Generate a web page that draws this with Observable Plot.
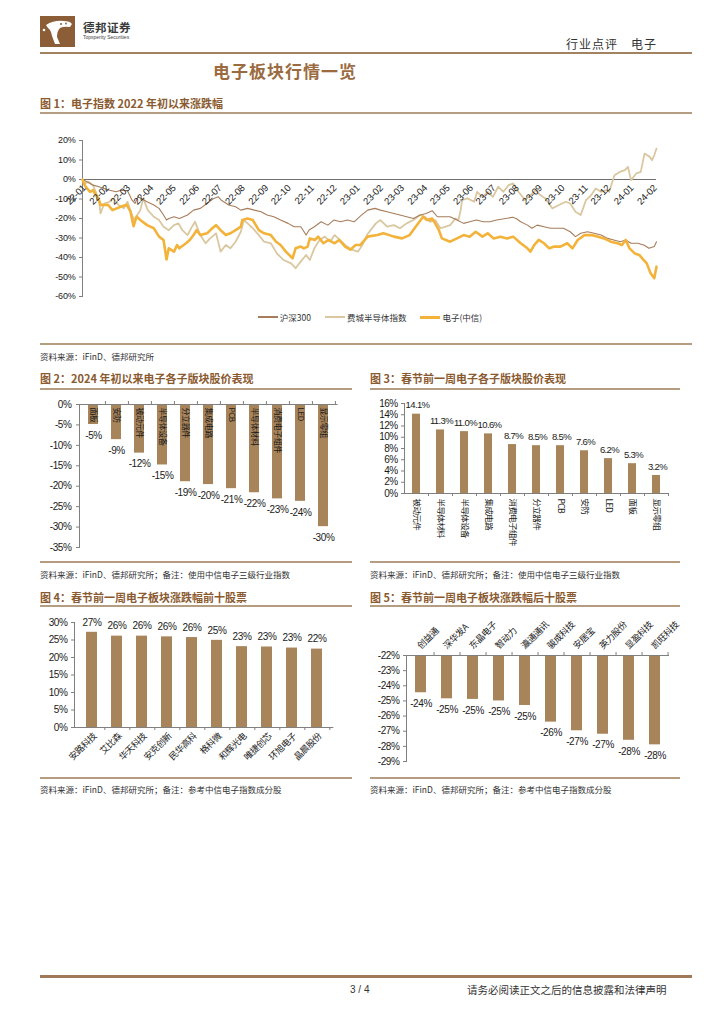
<!DOCTYPE html>
<html><head><meta charset="utf-8">
<script src="https://cdn.jsdelivr.net/npm/d3@7"></script>
<script src="https://cdn.jsdelivr.net/npm/@observablehq/plot@0.6"></script>
<style>
html,body{margin:0;padding:0;background:#fff;}
#page{position:relative;width:724px;height:1024px;overflow:hidden;font-family:"Noto Sans CJK SC","Noto Sans",sans-serif;color:#333;background:#fff;}
.t{position:absolute;white-space:nowrap;line-height:1;}
.ln{position:absolute;}
</style></head><body><div id="page"></div>
<script>
// ---------------- DATA ----------------
// Figure 1: cumulative change since 2022-01 (%)
const hs300 = [["2022-01-04",0],["2022-01-10",-1.2],["2022-01-18",-2.9],["2022-01-26",-3.7],["2022-02-09",-5.5],["2022-02-18",-6.3],["2022-02-24",-5.5],["2022-03-05",-5.8],["2022-03-11",-10.6],["2022-03-15",-12.3],["2022-03-19",-8.9],["2022-03-31",-11.4],["2022-04-09",-13.1],["2022-04-16",-14.8],["2022-04-22",-18.2],["2022-04-26",-20.8],["2022-04-29",-20],["2022-05-06",-19.1],["2022-05-13",-20],["2022-05-24",-18.2],["2022-06-01",-15.7],["2022-06-10",-14.8],["2022-06-19",-12.3],["2022-06-28",-9.7],["2022-07-04",-8.9],["2022-07-08",-10.6],["2022-07-18",-13.1],["2022-07-27",-14],["2022-08-03",-15.7],["2022-08-12",-14.8],["2022-08-21",-15.7],["2022-08-30",-16.5],["2022-09-07",-18.2],["2022-09-16",-19.1],["2022-09-25",-20.8],["2022-10-05",-22.5],["2022-10-13",-24.2],["2022-10-22",-24.2],["2022-10-29",-28.5],["2022-11-02",-25.9],["2022-11-09",-24.2],["2022-11-18",-21.7],["2022-11-27",-23.4],["2022-12-05",-20.8],["2022-12-14",-21.7],["2022-12-23",-20.8],["2023-01-01",-21.7],["2023-01-10",-18.5],["2023-01-19",-15.7],["2023-01-29",-14.8],["2023-02-05",-15.7],["2023-02-14",-16.5],["2023-02-23",-17.4],["2023-03-03",-18.2],["2023-03-12",-19.1],["2023-03-21",-20],["2023-03-30",-18.2],["2023-04-07",-17.4],["2023-04-15",-16],["2023-04-22",-19.1],["2023-04-30",-19.1],["2023-05-09",-19.1],["2023-05-18",-20.8],["2023-05-27",-22.5],["2023-06-04",-21.7],["2023-06-13",-20.8],["2023-06-22",-21.7],["2023-07-01",-21.7],["2023-07-10",-20.8],["2023-07-31",-19.4],["2023-08-05",-20],["2023-08-11",-21.7],["2023-08-20",-23.4],["2023-08-26",-25],["2023-09-02",-23.4],["2023-09-11",-24.2],["2023-09-20",-25],["2023-09-28",-25],["2023-10-07",-25],["2023-10-16",-26.8],["2023-10-23",-29.3],["2023-10-30",-27.6],["2023-11-08",-26.8],["2023-11-17",-27.6],["2023-11-26",-28.5],["2023-12-05",-30.2],["2023-12-13",-31],["2023-12-22",-31.9],["2023-12-29",-31],["2024-01-05",-32.7],["2024-01-14",-32.7],["2024-01-22",-33.6],["2024-01-29",-35.3],["2024-02-05",-34.4],["2024-02-08",-31.9]];
const sox = [["2022-01-04",0],["2022-01-07",-2],["2022-01-12",-1.2],["2022-01-18",-2.9],["2022-01-26",-10.6],["2022-01-28",-17.4],["2022-02-02",-12.3],["2022-02-09",-11.4],["2022-02-14",-9.7],["2022-02-21",-13.1],["2022-02-28",-14.8],["2022-03-05",-11.4],["2022-03-11",-18.2],["2022-03-14",-20.8],["2022-03-22",-15.7],["2022-03-26",-9.7],["2022-04-01",-15.7],["2022-04-09",-19.1],["2022-04-16",-20.8],["2022-04-22",-24.2],["2022-04-29",-26],["2022-05-06",-23.4],["2022-05-12",-22.5],["2022-05-17",-26],["2022-05-24",-28.5],["2022-05-30",-24.2],["2022-06-03",-21.7],["2022-06-10",-28.5],["2022-06-17",-32.7],["2022-06-23",-30.2],["2022-07-01",-27.6],["2022-07-07",-37],["2022-07-14",-33.6],["2022-07-20",-35.3],["2022-07-27",-31.9],["2022-08-03",-26.8],["2022-08-07",-20.8],["2022-08-12",-22.5],["2022-08-19",-25],["2022-08-27",-28.5],["2022-09-03",-31.9],["2022-09-12",-32.7],["2022-09-20",-37.9],["2022-09-29",-41.3],["2022-10-09",-43],["2022-10-15",-45.5],["2022-10-22",-42],["2022-10-29",-38.7],["2022-11-03",-41.3],["2022-11-09",-35.3],["2022-11-16",-31],["2022-11-23",-29.3],["2022-11-30",-31.9],["2022-12-06",-28.5],["2022-12-13",-31],["2022-12-20",-33.6],["2022-12-29",-36],["2023-01-06",-37],["2023-01-12",-33.6],["2023-01-18",-28.5],["2023-01-30",-22.5],["2023-02-05",-20.8],["2023-02-14",-24.2],["2023-02-23",-23.4],["2023-03-03",-25],["2023-03-12",-22.5],["2023-03-21",-20.8],["2023-03-30",-18.2],["2023-04-05",-19.1],["2023-04-12",-21.7],["2023-04-19",-20.8],["2023-04-26",-25],["2023-05-03",-24.2],["2023-05-09",-23.4],["2023-05-16",-20],["2023-05-20",-20.8],["2023-05-23",-15.7],["2023-05-25",-10.6],["2023-06-01",-9.7],["2023-06-10",-11.4],["2023-06-14",-6.3],["2023-06-21",-8.9],["2023-06-28",-6.3],["2023-07-05",-8.9],["2023-07-12",-3.7],["2023-07-19",-6.3],["2023-07-26",-2.9],["2023-08-01",-2],["2023-08-08",-6.3],["2023-08-17",-10.6],["2023-08-24",-8],["2023-08-31",-5.5],["2023-09-06",-8],["2023-09-13",-9.7],["2023-09-22",-14.8],["2023-10-01",-13.1],["2023-10-10",-11.4],["2023-10-16",-12.3],["2023-10-23",-16.5],["2023-10-30",-18.2],["2023-11-06",-10.6],["2023-11-13",-8],["2023-11-19",-4.6],["2023-11-26",-6.3],["2023-12-03",-5.5],["2023-12-07",-6.3],["2023-12-14",2.2],["2023-12-21",3.9],["2023-12-28",4.8],["2024-01-01",6.5],["2024-01-05",-0.3],["2024-01-12",3.1],["2024-01-18",3.9],["2024-01-23",13.3],["2024-01-30",11.6],["2024-02-02",9.9],["2024-02-05",12.4],["2024-02-08",15.9]];
const elec = [["2022-01-04",0],["2022-01-07",-3],["2022-01-10",-4.6],["2022-01-14",-6.3],["2022-01-18",-5.5],["2022-01-26",-10.6],["2022-01-28",-13],["2022-02-07",-13],["2022-02-13",-15.7],["2022-02-24",-14],["2022-03-04",-13],["2022-03-09",-16.5],["2022-03-13",-24],["2022-03-17",-19],["2022-03-22",-20.8],["2022-03-31",-23.4],["2022-04-09",-25],["2022-04-16",-29.3],["2022-04-22",-31],["2022-04-26",-41],["2022-04-29",-35.3],["2022-05-06",-37],["2022-05-10",-33.6],["2022-05-13",-35.3],["2022-05-22",-32.7],["2022-05-27",-31],["2022-06-01",-28.5],["2022-06-05",-26],["2022-06-10",-28.5],["2022-06-19",-27.6],["2022-06-26",-25],["2022-07-01",-23.4],["2022-07-07",-26],["2022-07-14",-28.5],["2022-07-20",-27.6],["2022-07-27",-26],["2022-08-03",-24.2],["2022-08-05",-20.8],["2022-08-12",-20],["2022-08-19",-20.8],["2022-08-27",-26],["2022-09-03",-27.6],["2022-09-12",-28.5],["2022-09-19",-31.9],["2022-09-25",-33.6],["2022-10-02",-37],["2022-10-11",-40.4],["2022-10-15",-35.3],["2022-10-22",-34.4],["2022-10-26",-35.3],["2022-10-31",-34.4],["2022-11-03",-30.2],["2022-11-10",-31],["2022-11-14",-29.3],["2022-11-21",-32.7],["2022-11-28",-31],["2022-12-06",-32.7],["2022-12-12",-31],["2022-12-20",-34.4],["2022-12-27",-36],["2023-01-03",-33.6],["2023-01-09",-33.6],["2023-01-17",-30.2],["2023-01-19",-29.3],["2023-02-01",-28.5],["2023-02-09",-27.6],["2023-02-23",-29.3],["2023-03-06",-30.2],["2023-03-16",-28.5],["2023-03-24",-24.2],["2023-04-03",-19.1],["2023-04-08",-20.8],["2023-04-15",-20],["2023-04-19",-22.5],["2023-04-24",-26],["2023-04-28",-30.2],["2023-05-09",-31.9],["2023-05-18",-30.2],["2023-05-27",-28.5],["2023-06-04",-29.3],["2023-06-12",-26.8],["2023-06-21",-29.3],["2023-06-28",-27.6],["2023-07-06",-30.2],["2023-07-15",-29.3],["2023-07-24",-30.2],["2023-08-01",-29.3],["2023-08-11",-32.7],["2023-08-20",-35.3],["2023-08-24",-37],["2023-08-29",-33.6],["2023-09-04",-31],["2023-09-11",-32.7],["2023-09-18",-35.3],["2023-09-25",-34.4],["2023-10-03",-34.4],["2023-10-12",-32.7],["2023-10-19",-35.3],["2023-10-26",-31],["2023-11-04",-28.5],["2023-11-13",-28.5],["2023-11-22",-29.3],["2023-11-30",-30.2],["2023-12-09",-31.9],["2023-12-18",-32.7],["2023-12-24",-33.6],["2023-12-29",-31],["2024-01-03",-35.3],["2024-01-10",-37.9],["2024-01-16",-38.7],["2024-01-22",-41.3],["2024-01-26",-43],["2024-01-31",-48],["2024-02-05",-50.6],["2024-02-08",-44.7]];
const months1 = ["22-01","22-02","22-03","22-04","22-05","22-06","22-07","22-08","22-09","22-10","22-11","22-12","23-01","23-02","23-03","23-04","23-05","23-06","23-07","23-08","23-09","23-10","23-11","23-12","24-01","24-02"];
const yTicks1 = [-60,-50,-40,-30,-20,-10,0,10,20];
const seriesNames1 = ["沪深300","费城半导体指数","电子(中信)"];

// Figure 2
const cats2 = ["面板","安防","被动元件","半导体设备","分立器件","集成电路","PCB","半导体材料","消费电子组件","LED","显示零组"];
const vals2 = [-4.9,-8.6,-11.9,-14.8,-18.9,-19.6,-20.6,-21.6,-23.1,-23.7,-29.9];
const yTicks2 = [-35,-30,-25,-20,-15,-10,-5,0];

// Figure 3
const cats3 = ["被动元件","半导体材料","半导体设备","集成电路","消费电子组件","分立器件","PCB","安防","LED","面板","显示零组"];
const vals3 = [14.1,11.3,11.0,10.6,8.7,8.5,8.5,7.6,6.2,5.3,3.2];
const yTicks3 = [0,2,4,6,8,10,12,14,16];

// Figure 4
const cats4 = ["安路科技","艾比森","华天科技","安克创新","民华高科","格科微","和辉光电","唯捷创芯","环旭电子","晶晨股份"];
const vals4 = [27.2,26.1,26.1,25.9,25.7,24.9,23.1,23.0,22.7,22.4];
const yTicks4 = [0,5,10,15,20,25,30];

// Figure 5
const cats5 = ["创益通","深华发A","东晶电子","智动力","瀛通通讯","骏成科技","安居宝","英力股份","显盈科技","凯旺科技"];
const vals5 = [-24.46,-24.86,-24.9,-25.0,-25.3,-26.4,-26.97,-27.2,-27.6,-27.9];
const yTicks5 = [-22,-23,-24,-25,-26,-27,-28,-29];

// ---------------- STYLE ----------------
const NUM = '"Liberation Sans Narrow","Liberation Sans",Arial,sans-serif';
const CJK = '"Noto Sans CJK SC","Noto Sans",sans-serif';
const BAR = "#a8845a";
const AX = "#808080";
const TXT = "#1a1a1a";
const BROWN = "#8a5a30";
const RULE = "#b59d82";
const C_HS = "#a77d5c", C_SOX = "#dac7a0", C_EL = "#f3b33a";

const page = document.getElementById("page");
function addText(txt, x, cy, size, extra) {
  const d = document.createElement("div");
  d.className = "t"; d.textContent = txt;
  d.style.left = x + "px"; d.style.top = (cy - size / 2) + "px"; d.style.fontSize = size + "px";
  if (extra) Object.assign(d.style, extra);
  page.appendChild(d); return d;
}
function addLine(x, y, w, h, color) {
  const d = document.createElement("div");
  d.className = "ln";
  Object.assign(d.style, {left: x + "px", top: y + "px", width: w + "px", height: h + "px", background: color});
  page.appendChild(d);
}
function place(el, x, y) {
  el.style.position = "absolute"; el.style.left = x + "px"; el.style.top = y + "px";
  page.appendChild(el);
}
const baseStyle = {fontFamily: NUM, fontSize: "10px", color: TXT, background: "transparent", overflow: "visible", letterSpacing: "-0.4px"};

// ---------------- HEADER ----------------
(function logo() {
  const d = document.createElement("div");
  Object.assign(d.style, {position: "absolute", left: "40px", top: "16px", width: "35px", height: "31px", background: "#8b5e38"});
  d.innerHTML = '<svg width="35" height="31" viewBox="0 0 35 31"><path d="M6,9 Q14,4 24,5 Q30,5 32,8 L30,11 Q24,10 20,12 Q17,15 17,21 L20,28 L15,28 L12,20 Q11,14 8,12 Z" fill="#fff"/><circle cx="4" cy="14" r="1.3" fill="#fff"/><circle cx="21" cy="8" r="1" fill="#8b5e38"/><circle cx="26" cy="7.5" r="0.9" fill="#8b5e38"/></svg>';
  page.appendChild(d);
})();
addText("德邦证券", 83, 28, 11.5, {fontWeight: "700", color: "#3a3a3a", letterSpacing: "0.5px"});
addText("Topsperity Securities", 83, 37, 5, {fontFamily: NUM, color: "#444"});
addText("行业点评\u3000电子", 566, 44, 12, {color: "#333", letterSpacing: "1px"});
addLine(40, 52, 652, 2, "#a38262");
addText("电子板块行情一览", 213, 70, 17, {fontWeight: "700", color: "#9b6b3f", letterSpacing: "1px"});

// ---------------- FIGURE 1 ----------------
addText("图 1：电子指数 2022 年初以来涨跌幅", 40, 103, 11, {fontWeight: "700", color: BROWN});
addLine(40, 112, 652, 1.5, RULE);
const parse = d3.utcParse("%Y-%m-%d");
const toRows = (arr, s) => arr.map(([d, v]) => ({date: parse(d), v, s}));
const rows1 = [...toRows(sox, seriesNames1[1]), ...toRows(hs300, seriesNames1[0]), ...toRows(elec, seriesNames1[2])];
const monthRows = months1.map(m => ({m, date: parse("20" + m + "-01")}));
const fig1 = Plot.plot({
  width: 640, height: 180, marginLeft: 42, marginRight: 24, marginTop: 15, marginBottom: 9,
  x: {type: "utc", domain: [parse(hs300[0][0]), parse(hs300[hs300.length - 1][0])], axis: null},
  y: {domain: [yTicks1[0], yTicks1[yTicks1.length - 1]], axis: null},
  style: {...baseStyle, fontSize: "9px", letterSpacing: "-0.2px"},
  marks: [
    Plot.frame({anchor: "left", stroke: AX}),
    Plot.axisY({ticks: yTicks1, tickSize: 3, tickPadding: 4, tickFormat: d => d + "%", fontSize: 9, stroke: AX, label: null}),
    Plot.ruleY([0], {stroke: "#6e6e6e", strokeWidth: 1}),
    Plot.line(rows1.filter(r => r.s === seriesNames1[1]), {x: "date", y: "v", stroke: C_SOX, strokeWidth: 1.8}),
    Plot.line(rows1.filter(r => r.s === seriesNames1[0]), {x: "date", y: "v", stroke: C_HS, strokeWidth: 1.1}),
    Plot.line(rows1.filter(r => r.s === seriesNames1[2]), {x: "date", y: "v", stroke: C_EL, strokeWidth: 2.6}),
    Plot.text(monthRows, {x: "date", y: 0, text: "m", rotate: -45, textAnchor: "end", lineAnchor: "middle", dx: 4, dy: 7, fontSize: 9.5, fill: TXT})
  ]
});
place(fig1, 40, 125);
(function legend() {
  const box = document.createElement("div");
  Object.assign(box.style, {position: "absolute", left: "170px", width: "400px", top: "311px", display: "flex", justifyContent: "center", alignItems: "center", gap: "14px", fontSize: "8.5px", color: "#333"});
  const cols = [C_HS, C_SOX, C_EL], ws = [1.5, 2, 3];
  seriesNames1.forEach((n, i) => {
    const it = document.createElement("div");
    Object.assign(it.style, {display: "flex", alignItems: "center", gap: "2px"});
    it.innerHTML = '<span style="display:inline-block;width:20px;height:' + ws[i] + 'px;background:' + cols[i] + '"></span><span>' + n + '</span>';
    box.appendChild(it);
  });
  page.appendChild(box);
})();
addLine(40, 343, 652, 1.5, RULE);
addText("资料来源：iFinD、德邦研究所", 40, 356, 8.5, {color: "#333"});

// ---------------- FIGURE 2 ----------------
addText("图 2：2024 年初以来电子各子版块股价表现", 40, 378, 11, {fontWeight: "700", color: BROWN});
addLine(40, 388, 312, 1.5, RULE);
{
  const W = 315, ml = 39, mr = 17.5, pi = 0.58, po = 0.21;
  const step = (W - ml - mr) / (cats2.length - pi + 2 * po);
  const d2 = cats2.map((c, i) => ({c, v: vals2[i]}));
  const fig2 = Plot.plot({
    width: W, height: 160, marginLeft: ml, marginRight: mr, marginTop: 9, marginBottom: 8,
    x: {domain: cats2, paddingInner: pi, paddingOuter: po, axis: null},
    y: {domain: [yTicks2[0], yTicks2[yTicks2.length - 1]], axis: null},
    style: baseStyle,
    marks: [
      Plot.barY(d2, {x: "c", y: "v", fill: BAR}),
      Plot.ruleY([0], {stroke: AX}),
      Plot.ruleX(cats2, {x: d => d, y1: 0, y2: 0, insetTop: -3, dx: step / 2, stroke: AX}),
      Plot.frame({anchor: "left", stroke: AX}),
      Plot.axisY({ticks: yTicks2, tickSize: 3, tickPadding: 5, tickFormat: d => d + "%", fontSize: 10, stroke: AX, label: null}),
      Plot.text(d2, {x: "c", y: 0, text: "c", rotate: 90, textAnchor: "start", dy: 3, fontFamily: CJK, fontSize: 8, fill: TXT}),
      Plot.text(d2, {x: "c", y: "v", text: d => Math.round(d.v) + "%", dy: 11, fontSize: 10, fill: TXT})
    ]
  });
  place(fig2, 40, 395);
}
addLine(40, 561, 312, 1.5, RULE);
addText("资料来源：iFinD、德邦研究所；备注：使用中信电子三级行业指数", 40, 574, 8.5, {color: "#333"});

// ---------------- FIGURE 3 ----------------
addText("图 3：春节前一周电子各子版块股价表现", 370, 378, 11, {fontWeight: "700", color: BROWN});
addLine(370, 388, 310, 1.5, RULE);
{
  const W = 320, ml = 34, mr = 22, pi = 0.65, po = 0.32;
  const step = (W - ml - mr) / (cats3.length - pi + 2 * po);
  const d3r = cats3.map((c, i) => ({c, v: vals3[i]}));
  const fig3 = Plot.plot({
    width: W, height: 165, marginLeft: ml, marginRight: mr, marginTop: 8, marginBottom: 67,
    x: {domain: cats3, paddingInner: pi, paddingOuter: po, axis: null},
    y: {domain: [yTicks3[0], yTicks3[yTicks3.length - 1]], axis: null},
    style: {...baseStyle, letterSpacing: "-0.6px"},
    marks: [
      Plot.barY(d3r, {x: "c", y: "v", fill: BAR}),
      Plot.ruleY([0], {stroke: AX}),
      Plot.ruleX(cats3, {x: d => d, y1: 0, y2: 0, insetBottom: -3, dx: step / 2, stroke: AX}),
      Plot.frame({anchor: "left", stroke: AX}),
      Plot.axisY({ticks: yTicks3, tickSize: 3, tickPadding: 4, tickFormat: d => d + "%", fontSize: 10, stroke: AX, label: null}),
      Plot.text(d3r, {x: "c", y: 0, text: "c", rotate: 90, textAnchor: "start", dy: 5, fontFamily: CJK, fontSize: 8.5, fill: TXT}),
      Plot.text(d3r, {x: "c", y: "v", text: d => d.v.toFixed(1) + "%", dy: -9, dx: 1, fontSize: 9.5, fill: TXT})
    ]
  });
  place(fig3, 370, 395);
}
addLine(370, 561, 310, 1.5, RULE);
addText("资料来源：iFinD、德邦研究所；备注：使用中信电子三级行业指数", 370, 574, 8.5, {color: "#333"});

// ---------------- FIGURE 4 ----------------
addText("图 4：春节前一周电子板块涨跌幅前十股票", 40, 597, 11, {fontWeight: "700", color: BROWN});
addLine(40, 605, 312, 1.5, RULE);
{
  const W = 315, ml = 34, mr = 21.7, pi = 0.58, po = 0.34;
  const step = (W - ml - mr) / (cats4.length - pi + 2 * po);
  const d4 = cats4.map((c, i) => ({c, v: vals4[i]}));
  const fig4 = Plot.plot({
    width: W, height: 165, marginLeft: ml, marginRight: mr, marginTop: 12, marginBottom: 48,
    x: {domain: cats4, paddingInner: pi, paddingOuter: po, axis: null},
    y: {domain: [yTicks4[0], yTicks4[yTicks4.length - 1]], axis: null},
    style: baseStyle,
    marks: [
      Plot.barY(d4, {x: "c", y: "v", fill: BAR}),
      Plot.ruleY([0], {stroke: AX}),
      Plot.ruleX(cats4, {x: d => d, y1: 0, y2: 0, insetBottom: -3, dx: step / 2, stroke: AX}),
      Plot.frame({anchor: "left", stroke: AX}),
      Plot.axisY({ticks: yTicks4, tickSize: 3, tickPadding: 4, tickFormat: d => d + "%", fontSize: 10, stroke: AX, label: null}),
      Plot.text(d4, {x: "c", y: 0, text: "c", rotate: -45, textAnchor: "end", lineAnchor: "middle", dx: 3, dy: 7, fontFamily: CJK, fontSize: 9, fill: TXT}),
      Plot.text(d4, {x: "c", y: "v", text: d => Math.round(d.v) + "%", dy: -10, fontSize: 10, fill: TXT})
    ]
  });
  place(fig4, 40, 610);
}
addLine(40, 777, 312, 1.5, RULE);
addText("资料来源：iFinD、德邦研究所；备注：参考中信电子指数成分股", 40, 789, 8.5, {color: "#333"});

// ---------------- FIGURE 5 ----------------
addText("图 5：春节前一周电子板块涨跌幅后十股票", 370, 597, 11, {fontWeight: "700", color: BROWN});
addLine(370, 605, 310, 1.5, RULE);
{
  const W = 320, ml = 36, mr = 21, pi = 0.56, po = 0.32;
  const step = (W - ml - mr) / (cats5.length - pi + 2 * po);
  const base = yTicks5[0];
  const d5 = cats5.map((c, i) => ({c, v: vals5[i]}));
  const fig5 = Plot.plot({
    width: W, height: 160, marginLeft: ml, marginRight: mr, marginTop: 45, marginBottom: 9,
    x: {domain: cats5, paddingInner: pi, paddingOuter: po, axis: null},
    y: {domain: [yTicks5[yTicks5.length - 1], base], axis: null},
    style: baseStyle,
    marks: [
      Plot.barY(d5, {x: "c", y1: base, y2: "v", fill: BAR}),
      Plot.ruleY([base], {stroke: AX}),
      Plot.ruleX(cats5, {x: d => d, y1: base, y2: base, insetTop: -3, dx: step / 2, stroke: AX}),
      Plot.frame({anchor: "left", stroke: AX}),
      Plot.axisY({ticks: yTicks5, tickSize: 3, tickPadding: 4, tickFormat: d => d + "%", fontSize: 10, stroke: AX, label: null}),
      Plot.text(d5, {x: "c", y: base, text: "c", rotate: -45, textAnchor: "start", lineAnchor: "middle", dx: -2, dy: -8, fontFamily: CJK, fontSize: 9, fill: TXT}),
      Plot.text(d5, {x: "c", y: "v", text: d => Math.round(d.v) + "%", dy: 11, fontSize: 10, fill: TXT})
    ]
  });
  place(fig5, 370, 610);
}
addLine(370, 777, 310, 1.5, RULE);
addText("资料来源：iFinD、德邦研究所；备注：参考中信电子指数成分股", 370, 789, 8.5, {color: "#333"});

// ---------------- FOOTER ----------------
addLine(40, 975, 652, 2.5, "#a07a58");
addText("3 / 4", 350, 990, 10, {fontFamily: NUM, color: "#333"});
addText("请务必阅读正文之后的信息披露和法律声明", 467, 990, 10.5, {color: "#333"});
</script></body></html>
